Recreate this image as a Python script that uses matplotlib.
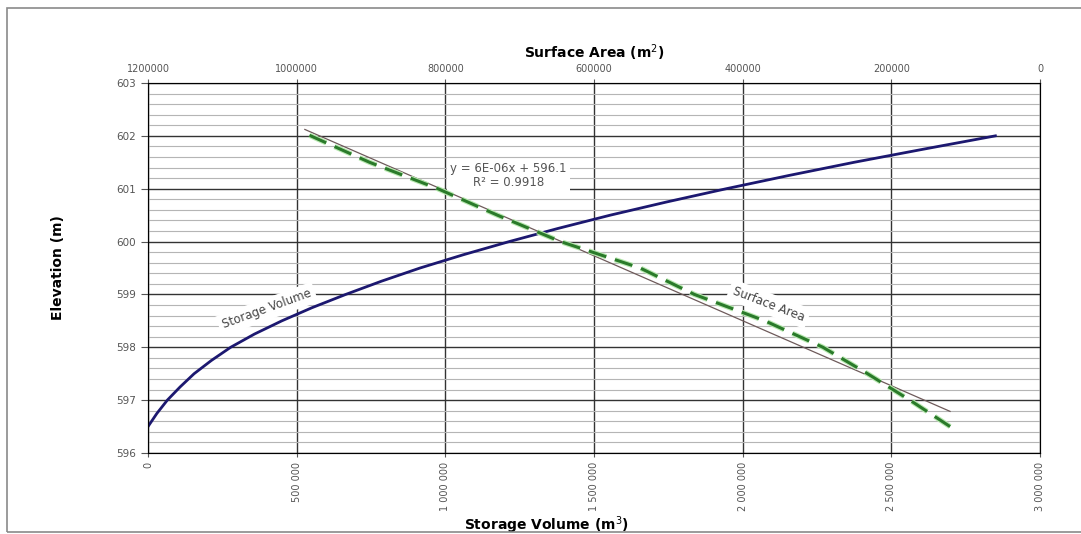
import numpy as np
import matplotlib.pyplot as plt
import matplotlib.patheffects as pe
from matplotlib.ticker import MultipleLocator, FuncFormatter
from matplotlib.patches import Rectangle

# Storage volume curve (m3) vs elevation (m)
elev_vol = [596.5, 596.75, 597.0, 597.25, 597.5, 597.75, 598.0, 598.25, 598.5, 598.75,
            599.0, 599.25, 599.5, 599.75, 600.0, 600.25, 600.5, 600.75, 601.0, 601.25,
            601.5, 601.75, 602.0]
volume = [0, 30000, 65000, 108000, 155000, 213000, 278000, 358000, 450000, 552000,
          665000, 785000, 915000, 1060000, 1215000, 1380000, 1555000, 1745000, 1945000, 2155000,
          2375000, 2610000, 2850000]

# Surface area curve (m2) vs elevation (m)
elev_area = [596.5, 597.0, 597.5, 598.0, 598.5, 599.0, 599.5, 600.0, 600.5, 601.0, 601.5, 602.05]
area = [121000, 175000, 232000, 292000, 370000, 465000, 538000, 645000, 730000, 810000, 902000, 989000]

vol_ticks = [0, 500000, 1000000, 1500000, 2000000, 2500000, 3000000]
area_ticks = [1200000, 1000000, 800000, 600000, 400000, 200000, 0]

fig = plt.figure(figsize=(10.81, 5.34), dpi=100)
fig.patches.append(Rectangle((7/1081, 2/534), 1.0, 524/534, transform=fig.transFigure,
                             fill=False, edgecolor='#8a8a8a', linewidth=1.2))
ax = fig.add_axes([148/1081, 81/534, 892/1081, 370/534])

# volume on the bottom axis
ax.plot(volume, elev_vol, color='#1c1870', linewidth=2.0, zorder=4)
ax.set_xlim(0, 3000000)
ax.set_ylim(596, 603)
ax.set_xticks(vol_ticks)
ax.xaxis.set_major_formatter(FuncFormatter(lambda v, p: f"{int(v):,}".replace(",", " ")))
ax.yaxis.set_major_locator(MultipleLocator(1))
ax.yaxis.set_minor_locator(MultipleLocator(0.2))
ax.grid(which='major', color='#333333', linewidth=1.0)
ax.grid(which='minor', axis='y', color='#b5b5b5', linewidth=0.8)
ax.tick_params(axis='x', labelrotation=90, labelsize=7, colors='#555555', length=3)
ax.tick_params(axis='y', labelsize=7.5, colors='#555555', length=5)
ax.tick_params(axis='y', which='minor', length=0)
for s in ax.spines.values():
    s.set_color('#555555')
ax.set_xlabel('Storage Volume (m$^3$)', fontsize=10, fontweight='bold')
ax.set_ylabel('Elevation (m)', fontsize=10, fontweight='bold')
ax.xaxis.set_label_coords(0.447, -0.165)
ax.yaxis.set_label_coords(-0.093, 0.5)

# surface area on the top axis (reversed)
ax2 = ax.twiny()
ax2.set_xlim(1200000, 0)
ax2.set_xticks(area_ticks)
ax2.xaxis.set_major_formatter(FuncFormatter(lambda v, p: f"{int(v)}"))
ax2.tick_params(axis='x', labelsize=7, colors='#555555', length=3)
ax2.plot(area, elev_area, color='#2a7a2a', linewidth=2.2, dashes=(6, 3), zorder=4,
         path_effects=[pe.Stroke(linewidth=3.8, foreground='#b8e8b0'), pe.Normal()])

# linear trendline
coef = np.polyfit(area, elev_area, 1)
xs = np.array([min(area), max(area)])
ax2.plot(xs, np.polyval(coef, xs), color='#6e5a5a', linewidth=0.9, zorder=3)
ax2.set_xlabel('Surface Area (m$^2$)', fontsize=10, fontweight='bold', labelpad=4)

ax2.text(715000, 601.25, 'y = 6E-06x + 596.1\nR\u00b2 = 0.9918', ha='center', va='center',
         fontsize=8.5, color='#555555', linespacing=1.1,
         bbox=dict(facecolor='white', edgecolor='none', pad=2))
ax.text(400000, 598.72, 'Storage Volume', rotation=20, ha='center', va='center',
        fontsize=8.5, color='#444444', zorder=5,
        bbox=dict(facecolor='white', edgecolor='none', pad=3))
ax2.text(365000, 598.82, 'Surface Area', rotation=-21, ha='center', va='center',
         fontsize=8.5, color='#444444', zorder=5,
         bbox=dict(facecolor='white', edgecolor='none', pad=3))

fig.savefig('out.png', dpi=100)
